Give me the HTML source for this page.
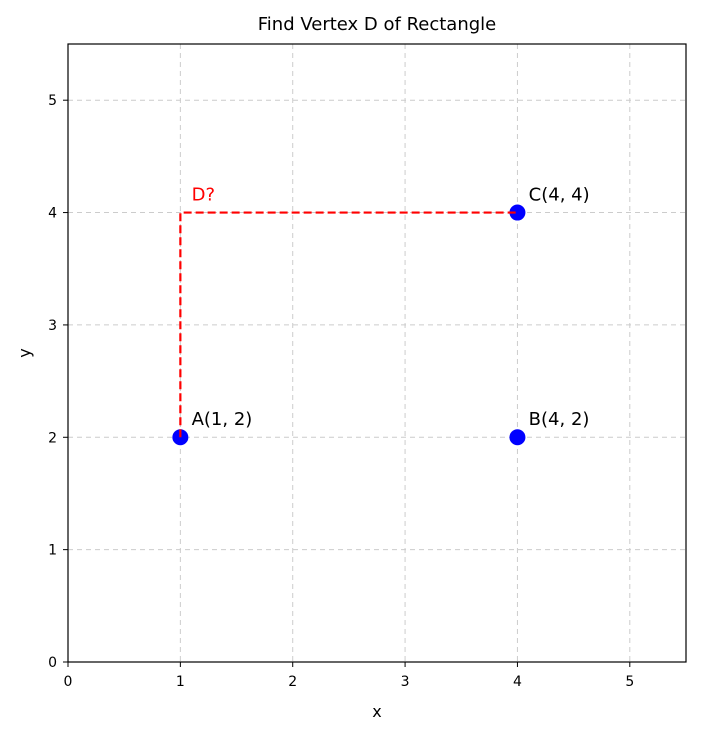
<!DOCTYPE html>
<html><head><meta charset="utf-8"><style>
body{margin:0;background:#fff;font-family:"Liberation Sans","DejaVu Sans",sans-serif;}
</style></head><body>
<svg width="701" height="737" xmlns="http://www.w3.org/2000/svg" style="font-family:'DejaVu Sans','Liberation Sans',sans-serif">
<text x="377" y="30" text-anchor="middle" font-size="18">Find Vertex D of Rectangle</text>
<g id="grid"></g>
<g id="pts"></g>
<g id="marks"></g>
<rect x="68" y="44" width="618" height="618" fill="none" stroke="#000" stroke-width="1.2"/>
<g id="ticks"></g>
<text x="377" y="717" text-anchor="middle" font-size="16">x</text>
<text x="30" y="353" text-anchor="middle" font-size="16" transform="rotate(-90 30 353)">y</text>
</svg>
<script>
const tickValues=[0,1,2,3,4,5];
const pointLabels=["A(1, 2)","B(4, 2)","C(4, 4)"];
const pointX=[1,4,4];
const pointY=[2,2,4];
const pathX=[1,1,4];
const pathY=[2,4,4];
const dLabel="D?";
const NS="http://www.w3.org/2000/svg";
const sx=v=>68+v*112.36, sy=v=>662-v*112.36;
function mk(tag,attrs,parent){const e=document.createElementNS(NS,tag);for(const k in attrs)e.setAttribute(k,attrs[k]);document.getElementById(parent).appendChild(e);return e;}
tickValues.forEach(t=>{
 if(t>0){
 const gx=mk('line',{x1:sx(t),x2:sx(t),y1:44,y2:662,stroke:'#ccc','stroke-dasharray':'5,4'},'grid');
 
 
 const gy=mk('line',{x1:68,x2:686,y1:sy(t),y2:sy(t),stroke:'#ccc','stroke-dasharray':'5,4'},'grid');
 
 }
 const tx=mk('line',{x1:sx(t),x2:sx(t),y1:662,y2:667,stroke:'#000'},'ticks');
 
 
 const lx=mk('text',{x:sx(t),y:686,'text-anchor':'middle','font-size':'14'},'ticks');lx.textContent=t;
 
 
 const ty=mk('line',{x1:63,x2:68,y1:sy(t),y2:sy(t),stroke:'#000'},'ticks');
 
 
 const ly=mk('text',{x:57,y:sy(t)+5,'text-anchor':'end','font-size':'14'},'ticks');ly.textContent=t;
 
 
});
pointX.forEach((x,i)=>{
 const c=mk('circle',{cx:sx(x),cy:sy(pointY[i]),r:8,fill:'blue'},'pts');
 
 
 const t=mk('text',{x:sx(x+0.1),y:sy(pointY[i]+0.1)-1,'font-size':'18'},'marks');t.textContent=pointLabels[i];
 
 
});
const pl=mk('polyline',{points:pathX.map((x,i)=>sx(x)+','+sy(pathY[i])).join(' '),fill:'none',stroke:'red','stroke-width':2.2,'stroke-dasharray':'8,4'},'marks');


const d=mk('text',{x:sx(pathX[1]+0.1),y:sy(pathY[1]+0.1)-1,'font-size':'18',fill:'red'},'marks');d.textContent=dLabel;


</script>
</body></html>
